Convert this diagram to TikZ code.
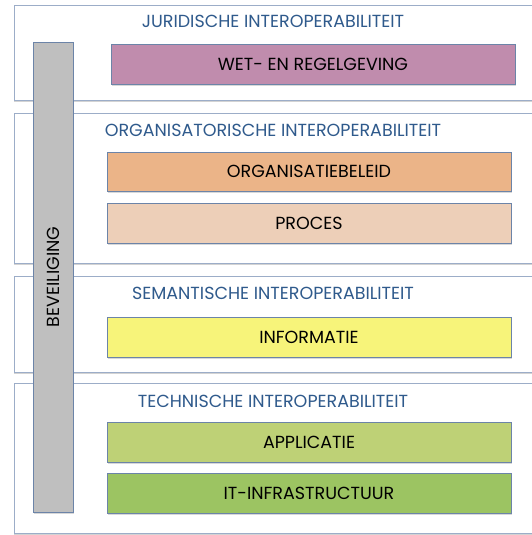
\documentclass[tikz,border=0pt]{standalone}
\usepackage{fontspec}
\setmainfont{Poppins}
\usepackage{xcolor}
\usetikzlibrary{shadows}
\definecolor{laagrand}{HTML}{9CADC8}
\definecolor{blokrand}{HTML}{6C84A8}
\definecolor{titelblauw}{HTML}{2F5A8C}
\definecolor{juridisch}{HTML}{C08CAD}
\definecolor{beleid}{HTML}{EBB488}
\definecolor{proces}{HTML}{EDCFB8}
\definecolor{semantisch}{HTML}{F7F47A}
\definecolor{applicatie}{HTML}{BED176}
\definecolor{infra}{HTML}{9CC462}
\definecolor{beveiliging}{HTML}{BFBFBF}

\tikzset{
 laag/.style={draw=laagrand,line width=0.6pt,fill=white,minimum width=532pt,inner sep=0pt,
  drop shadow={shadow xshift=0pt,shadow yshift=-1.5pt,opacity=0.35}},
 blok/.style={draw=blokrand,line width=0.6pt,minimum width=404pt,minimum height=40pt,inner sep=0pt,
  font=\fontsize{17.5}{20}\selectfont,
  drop shadow={shadow xshift=1pt,shadow yshift=-1.5pt,opacity=0.3}},
 titel/.style={text=titelblauw,font=\fontsize{17.5}{20}\selectfont,inner sep=0pt}
}

\begin{document}
\begin{tikzpicture}[x=1pt,y=-1pt]
\useasboundingbox (0,0) rectangle (531,535);
% lagen
\node[laag,minimum height=95pt](jur) at (280,52.5){};
\node[laag,minimum height=150pt](org) at (280,188){};
\node[laag,minimum height=96pt](sem) at (280,324){};
\node[laag,minimum height=150pt](tech) at (280,458){};
% beveiliging
\node[draw=blokrand,line width=0.6pt,fill=beveiliging,minimum width=40pt,minimum height=470pt,inner sep=0pt,
 drop shadow={shadow xshift=1pt,shadow yshift=-1.5pt,opacity=0.3}](bev) at (53,277){};
\node[rotate=90,font=\fontsize{17.5}{20}\selectfont](bevtekst) at (bev.center){BEVEILIGING};
% titels
\node[titel](jurtitel) at (273,21){JURIDISCHE INTEROPERABILITEIT};
\node[titel](orgtitel) at (273,130){ORGANISATORISCHE INTEROPERABILITEIT};
\node[titel](semtitel) at (273,293){SEMANTISCHE INTEROPERABILITEIT};
\node[titel](techtitel) at (273,401){TECHNISCHE INTEROPERABILITEIT};
% blokken
\node[blok,fill=juridisch](wet) at (313,64){WET- EN REGELGEVING};
\node[blok,fill=beleid,minimum height=39pt](orgbeleid) at (309,171.5){ORGANISATIEBELEID};
\node[blok,fill=proces](proc) at (309,223){PROCES};
\node[blok,fill=semantisch](info) at (309,337){INFORMATIE};
\node[blok,fill=applicatie](appl) at (309,442){APPLICATIE};
\node[blok,fill=infra](itinfra) at (309,493){IT-INFRASTRUCTUUR};
\end{tikzpicture}
\end{document}
